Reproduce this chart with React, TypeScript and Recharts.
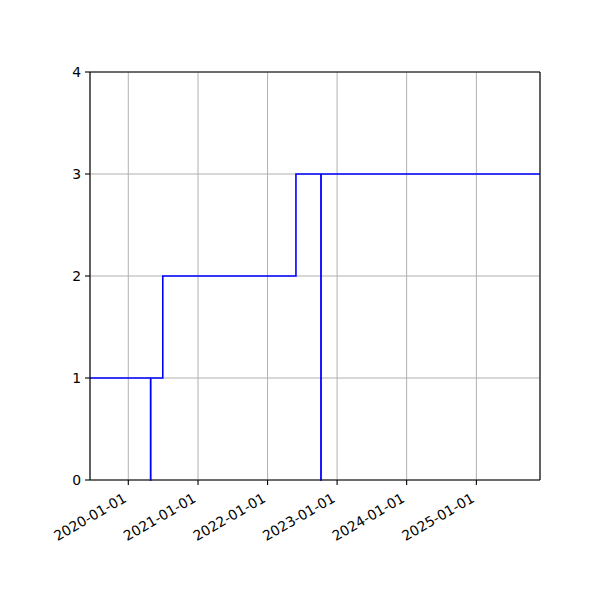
import React from 'react';
import {
  LineChart,
  Line,
  XAxis,
  YAxis,
  CartesianGrid,
  ReferenceLine,
} from 'recharts';

// step series: date and value at each change
const dates = [
  '2019-06-14',
  '2020-04-27',
  '2020-04-28',
  '2020-06-30',
  '2022-05-30',
  '2022-10-08',
  '2022-10-09',
  '2025-12-01',
];
const values = [1, 0, 1, 2, 3, 0, 3, 3];

const xTickDates = ['2020-01-01', '2021-01-01', '2022-01-01', '2023-01-01', '2024-01-01', '2025-01-01'];
const yTicks = [0, 1, 2, 3, 4];

const toTime = (d: string) => Date.parse(d + 'T00:00:00Z');
const fmt = (t: number) => new Date(t).toISOString().slice(0, 10);

const data = dates.map((d, i) => ({ t: toTime(d), value: values[i] }));
const xTicks = xTickDates.map(toTime);
const xMin = toTime(dates[0]);
const xMax = toTime(dates[dates.length - 1]);

const FONT = 'DejaVu Sans, sans-serif';

const DateTick = (props: any) => {
  const { x, y, payload } = props;
  return (
    <g transform={`translate(${x - 1},${y + 14})`}>
      <text
        x={0}
        y={0}
        textAnchor="end"
        transform="rotate(-30)"
        fontFamily={FONT}
        fontSize={13.9}
        fill="#000"
      >
        {fmt(payload.value)}
      </text>
    </g>
  );
};

const App: React.FC = () => {
  return (
    <div style={{ position: 'absolute', left: 0, top: 0, width: 600, height: 600, background: '#fff' }}>
      <LineChart
        width={600}
        height={600}
        data={data}
        margin={{ top: 72, right: 60, bottom: 0, left: 0 }}
      >
        <CartesianGrid stroke="#b0b0b0" strokeWidth={1} />
        <XAxis
          dataKey="t"
          type="number"
          scale="time"
          domain={[xMin, xMax]}
          ticks={xTicks}
          tick={<DateTick />}
          tickSize={5}
          height={120}
          stroke="#000"
          strokeWidth={1.1}
          interval={0}
          allowDataOverflow
        />
        <YAxis
          type="number"
          domain={[0, 4]}
          ticks={yTicks}
          width={90}
          tickSize={5}
          tickMargin={4}
          stroke="#000"
          strokeWidth={1.1}
          tick={{ fill: '#000', fontFamily: FONT, fontSize: 13.9 }}
          interval={0}
        />
        <ReferenceLine y={4} stroke="#000" strokeWidth={1.1} />
        <ReferenceLine x={xMax} stroke="#000" strokeWidth={1.1} />
        <Line
          type="stepAfter"
          dataKey="value"
          stroke="#0000ff"
          strokeWidth={1.6}
          dot={false}
          isAnimationActive={false}
        />
      </LineChart>
    </div>
  );
};

export default App;
